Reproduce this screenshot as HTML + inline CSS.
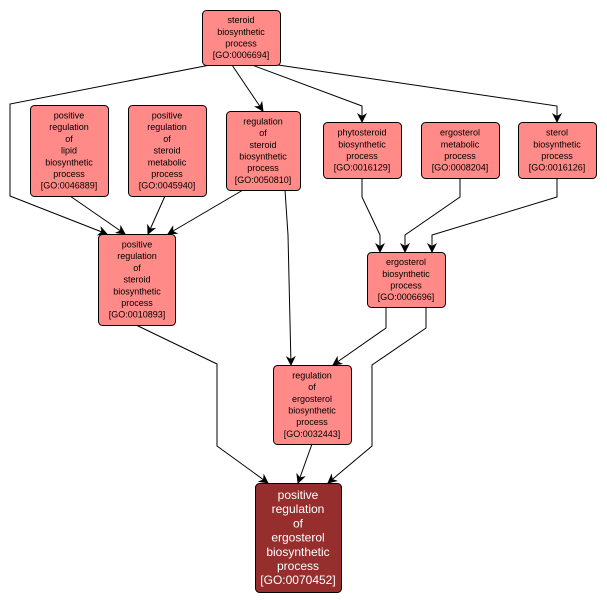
<!DOCTYPE html>
<html><head><meta charset="utf-8"><style>
html,body{margin:0;padding:0;background:#fff;}
svg{display:block;}
text{font-family:"Liberation Sans",sans-serif;font-size:9px;fill:#000;}
.b text,text.w{fill:#fff;font-size:12px;}
</style></head><body>
<svg width="607" height="602" viewBox="0 0 607 602" xmlns="http://www.w3.org/2000/svg">
<defs>
<marker id="a" markerWidth="10" markerHeight="10" refX="9" refY="5" orient="auto" markerUnits="userSpaceOnUse">
<path d="M0,0 L10,5 L0,10 L3,5 z" fill="#000"/>
</marker>
</defs>
<g fill="none" stroke="#000" stroke-width="1" marker-end="url(#a)">
<polyline points="210,65 10,104 10,196 107,234"/>
<polyline points="70,196 125,234"/>
<polyline points="165,196 148,234"/>
<polyline points="243,190 168,234"/>
<polyline points="232,65 263,111"/>
<polyline points="252,65 362,106 362,122"/>
<polyline points="278,65 557,106 557,122"/>
<polyline points="362,178 362,197 380,235 380,252"/>
<polyline points="460,178 460,197 405,235 405,252"/>
<polyline points="557,178 557,197 432,235 432,252"/>
<polyline points="386,307 386,328 333,365"/>
<polyline points="426,307 426,328 372,365 372,446 328,483"/>
<polyline points="285,190 288,235 291,365"/>
<polyline points="136,325 217,364 217,446 268,483"/>
<polyline points="312,444 298,483"/>
</g>
<g fill="#ff8a87" stroke="#000" stroke-width="1">
<rect x="202.5" y="10.5" width="78" height="55" rx="4"/>
<rect x="30.5" y="105.5" width="78" height="91" rx="4"/>
<rect x="128.5" y="105.5" width="78" height="91" rx="4"/>
<rect x="226.5" y="111.5" width="74" height="79" rx="4"/>
<rect x="323.5" y="122.5" width="78" height="56" rx="4"/>
<rect x="421.5" y="122.5" width="78" height="56" rx="4"/>
<rect x="518.5" y="122.5" width="78" height="56" rx="4"/>
<rect x="98.5" y="234.5" width="77" height="91" rx="4"/>
<rect x="367.5" y="252.5" width="78" height="55" rx="4"/>
<rect x="273.5" y="365.5" width="78" height="79" rx="4"/>
<rect x="255.5" y="483.5" width="86" height="109" rx="4" fill="#962e2e"/>
</g>
<text x="241" y="23.1" text-anchor="middle"><tspan x="241">steroid</tspan><tspan x="241" dy="11.7">biosynthetic</tspan><tspan x="241" dy="11.7">process</tspan><tspan x="241" dy="11.7">[GO:0006694]</tspan></text>
<text x="69" y="118.5" text-anchor="middle"><tspan x="69">positive</tspan><tspan x="69" dy="11.7">regulation</tspan><tspan x="69" dy="11.7">of</tspan><tspan x="69" dy="11.7">lipid</tspan><tspan x="69" dy="11.7">biosynthetic</tspan><tspan x="69" dy="11.7">process</tspan><tspan x="69" dy="11.7">[GO:0046889]</tspan></text>
<text x="167" y="118.5" text-anchor="middle"><tspan x="167">positive</tspan><tspan x="167" dy="11.7">regulation</tspan><tspan x="167" dy="11.7">of</tspan><tspan x="167" dy="11.7">steroid</tspan><tspan x="167" dy="11.7">metabolic</tspan><tspan x="167" dy="11.7">process</tspan><tspan x="167" dy="11.7">[GO:0045940]</tspan></text>
<text x="263" y="124.4" text-anchor="middle"><tspan x="263">regulation</tspan><tspan x="263" dy="11.7">of</tspan><tspan x="263" dy="11.7">steroid</tspan><tspan x="263" dy="11.7">biosynthetic</tspan><tspan x="263" dy="11.7">process</tspan><tspan x="263" dy="11.7">[GO:0050810]</tspan></text>
<text x="362" y="135.6" text-anchor="middle"><tspan x="362">phytosteroid</tspan><tspan x="362" dy="11.7">biosynthetic</tspan><tspan x="362" dy="11.7">process</tspan><tspan x="362" dy="11.7">[GO:0016129]</tspan></text>
<text x="460" y="135.6" text-anchor="middle"><tspan x="460">ergosterol</tspan><tspan x="460" dy="11.7">metabolic</tspan><tspan x="460" dy="11.7">process</tspan><tspan x="460" dy="11.7">[GO:0008204]</tspan></text>
<text x="557" y="135.6" text-anchor="middle"><tspan x="557">sterol</tspan><tspan x="557" dy="11.7">biosynthetic</tspan><tspan x="557" dy="11.7">process</tspan><tspan x="557" dy="11.7">[GO:0016126]</tspan></text>
<text x="137" y="247.5" text-anchor="middle"><tspan x="137">positive</tspan><tspan x="137" dy="11.7">regulation</tspan><tspan x="137" dy="11.7">of</tspan><tspan x="137" dy="11.7">steroid</tspan><tspan x="137" dy="11.7">biosynthetic</tspan><tspan x="137" dy="11.7">process</tspan><tspan x="137" dy="11.7">[GO:0010893]</tspan></text>
<text x="406" y="265.1" text-anchor="middle"><tspan x="406">ergosterol</tspan><tspan x="406" dy="11.7">biosynthetic</tspan><tspan x="406" dy="11.7">process</tspan><tspan x="406" dy="11.7">[GO:0006696]</tspan></text>
<text x="312" y="378.4" text-anchor="middle"><tspan x="312">regulation</tspan><tspan x="312" dy="11.7">of</tspan><tspan x="312" dy="11.7">ergosterol</tspan><tspan x="312" dy="11.7">biosynthetic</tspan><tspan x="312" dy="11.7">process</tspan><tspan x="312" dy="11.7">[GO:0032443]</tspan></text>
<text class="w" x="298" y="499" text-anchor="middle"><tspan x="298">positive</tspan><tspan x="298" dy="14.2">regulation</tspan><tspan x="298" dy="14.2">of</tspan><tspan x="298" dy="14.2">ergosterol</tspan><tspan x="298" dy="14.2">biosynthetic</tspan><tspan x="298" dy="14.2">process</tspan><tspan x="298" dy="14.2">[GO:0070452]</tspan></text>
</svg>
</body></html>
